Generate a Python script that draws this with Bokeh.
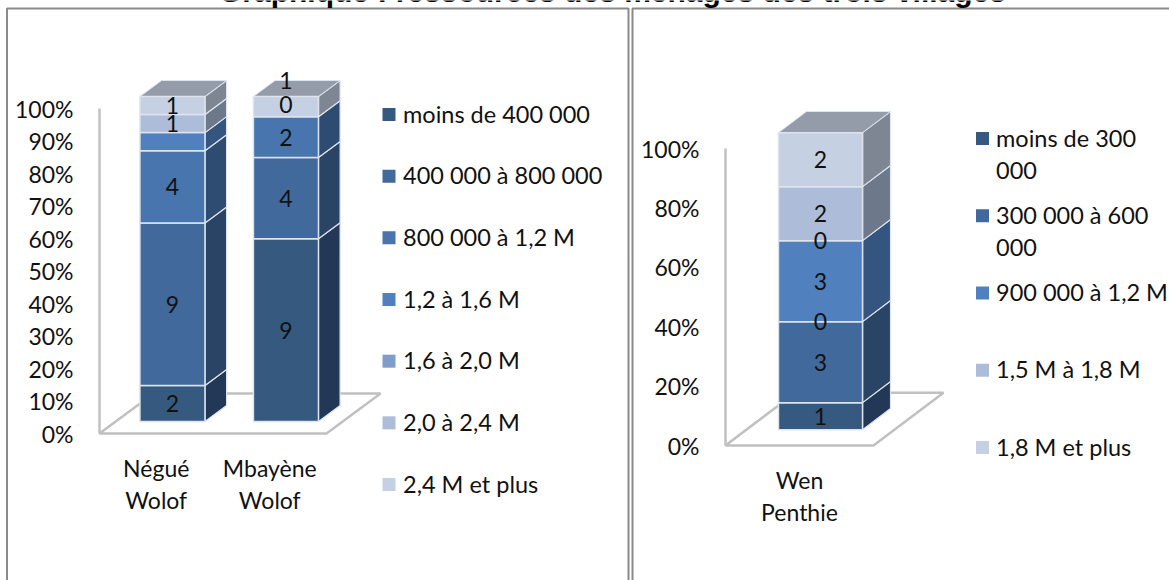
from bokeh.plotting import figure
from bokeh.models import Range1d, LinearAxis, FixedTicker
from bokeh.core.properties import value
from bokeh.embed import file_html
from bokeh.resources import INLINE

TITLE = "Graphique : ressources des ménages des trois villages"
FONT = "Lato"
TXT = "23px"
LEGEND_TXT = "23.5px"

FACE = ["#36597f", "#41699c", "#4875ae", "#5080bd", "#7f9dc9", "#adbcd9", "#c5d0e3"]
SIDE = ["#223856", "#2a4465", "#2e4c72", "#33557f", "#4f6583", "#6d788a", "#7e8693"]
TOP = "#949ba9"
EDGE = "#dde4ee"
WALL = "#c0c0c0"

LEFT_CATEGORIES = ["Négué\nWolof", "Mbayène\nWolof"]
LEFT_SERIES = ["moins de 400 000", "400 000 à 800 000", "800 000 à 1,2 M", "1,2 à 1,6 M",
               "1,6 à 2,0 M", "2,0 à 2,4 M", "2,4 M et plus"]
NEGUE = [2, 9, 4, 1, 0, 1, 1]
MBAYENE = [9, 4, 2, 0, 0, 0, 1]
NEGUE_LABELS = ["2", "9", "4", None, None, "1", "1"]
MBAYENE_LABELS = ["9", "4", "2", None, None, "0", "1"]
MBAYENE_NUDGE = [0, 0, 0, 0, 0, 3.7, 8.0]
NEGUE_NUDGE = [0, 0, 0, 0, 0, 0, 0]

RIGHT_CATEGORIES = ["Wen\nPenthie"]
RIGHT_SERIES = ["moins de 300\n000", "300 000 à 600\n000", "900 000 à 1,2 M", "1,5 M à 1,8 M", "1,8 M et plus"]
RIGHT_LEGEND_COLOR = [0, 1, 3, 5, 6]
WEN = [1, 3, 0, 3, 0, 2, 2]
WEN_LABELS = ["1", "3", "0", "3", "0", "2", "2"]
WEN_NUDGE = [0, 0, 0, 0, 0, 0, 0]

TICKS_LEFT = [0, 10, 20, 30, 40, 50, 60, 70, 80, 90, 100]
TICKS_RIGHT = [0, 20, 40, 60, 80, 100]

W, H = 1169, 580
# chart geometry in picture pixels: origin, pixels per category, pixels per percent
L = dict(x0=99, y0=433, ux=113.5, uy=3.25, dx=0.476, dy=12.3, bw=0.573)
R = dict(x0=725, y0=445, ux=148.0, uy=2.97, dx=0.473, dy=17.8, bw=0.568)

def xr(g):
    return Range1d((0 - g["x0"]) / g["ux"], (W - g["x0"]) / g["ux"])

def yr(g):
    return Range1d((g["y0"] - H) / g["uy"], g["y0"] / g["uy"])

p = figure(width=W, height=H, output_backend="svg", toolbar_location=None,
           x_range=xr(L), y_range=yr(L), x_axis_location=None, y_axis_location=None,
           min_border=0, outline_line_color=None, background_fill_color="white")
p.grid.visible = False
p.extra_x_ranges = {"right": xr(R), "px": Range1d(0, W)}
p.extra_y_ranges = {"right": yr(R), "px": Range1d(H, 0)}

def project(g, x, v, d):
    return x + d * g["dx"], v + d * g["dy"]

def draw_floor(g, ncat, **names):
    xs, ys = [], []
    for x, v, d in [(0, 0, 1), (0, 0, 0), (ncat, 0, 0), (ncat, 0, 1), (0, 0, 1)]:
        a, b = project(g, x, v, d)
        xs.append(a)
        ys.append(b)
    p.line(xs, ys, line_color=WALL, line_width=2.5, **names)

def draw_bar(g, i, values, labels, nudges, **names):
    total = sum(values)
    cl = i + 0.5 - g["bw"] / 2
    cr = i + 0.5 + g["bw"] / 2
    cum = 0.0
    fx, fy, fc = [], [], []
    sx, sy, sc = [], [], []
    tx, ty, tt = [], [], []
    for k, val in enumerate(values):
        v0 = cum / total * 100
        cum += val
        v1 = cum / total * 100
        if val > 0:
            pts = [project(g, cl, v0, .3), project(g, cr, v0, .3), project(g, cr, v1, .3), project(g, cl, v1, .3)]
            fx.append([q[0] for q in pts]); fy.append([q[1] for q in pts]); fc.append(FACE[k])
            pts = [project(g, cr, v0, .3), project(g, cr, v0, .7), project(g, cr, v1, .7), project(g, cr, v1, .3)]
            sx.append([q[0] for q in pts]); sy.append([q[1] for q in pts]); sc.append(SIDE[k])
        if labels[k] is not None:
            a, b = project(g, i + 0.5, (v0 + v1) / 2 + nudges[k], .3)
            tx.append(a); ty.append(b); tt.append(labels[k])
    pts = [project(g, cl, 100, .3), project(g, cr, 100, .3), project(g, cr, 100, .7), project(g, cl, 100, .7)]
    p.patches(sx, sy, fill_color=sc, line_color=EDGE, line_width=1.2, **names)
    p.patch([q[0] for q in pts], [q[1] for q in pts], fill_color=TOP, line_color=EDGE, line_width=1.0, **names)
    p.patches(fx, fy, fill_color=fc, line_color=EDGE, line_width=1.5, **names)
    return tx, ty, tt

PX = dict(x_range_name="px", y_range_name="px")
RG = dict(x_range_name="right", y_range_name="right")

# frames
p.line([6.5, 6.5, 628, 628], [H + 5, 8, 8, H + 5], line_color="#8a8a8a", line_width=2, **PX)
p.line([632, 632, W + 5], [H + 5, 8, 8], line_color="#8a8a8a", line_width=2, **PX)
p.text([612], [-9.5], text=[TITLE], text_font=value("Liberation Sans"), text_font_style="bold",
       text_font_size="30px", text_align="center", text_baseline="alphabetic", text_color="black", **PX)

# floors, bars
draw_floor(L, len(LEFT_CATEGORIES))
draw_floor(R, len(RIGHT_CATEGORIES), **RG)
for i, (vals, labs, nud) in enumerate([(NEGUE, NEGUE_LABELS, NEGUE_NUDGE), (MBAYENE, MBAYENE_LABELS, MBAYENE_NUDGE)]):
    tx, ty, tt = draw_bar(L, i, vals, labs, nud)
    p.text(tx, ty, text=tt, text_font=value(FONT), text_font_size=TXT, text_align="center",
           text_baseline="middle", text_color="#111111")
tx, ty, tt = draw_bar(R, 0, WEN, WEN_LABELS, WEN_NUDGE, **RG)
p.text(tx, ty, text=tt, text_font=value(FONT), text_font_size=TXT, text_align="center",
       text_baseline="middle", text_color="#111111", **RG)

# axes
def style_y(ax, ticks):
    ax.ticker = FixedTicker(ticks=ticks)
    ax.bounds = (0, 100)
    ax.major_label_overrides = {t: f"{t}%" for t in ticks}
    ax.major_tick_line_color = None
    ax.minor_tick_line_color = None
    ax.axis_line_color = WALL
    ax.axis_line_width = 2.5
    ax.major_label_standoff = 20
    ax.major_label_text_font = FONT
    ax.major_label_text_font_size = TXT
    ax.major_label_text_color = "#111111"

def style_x(ax, cats):
    ticks = [i + 0.5 for i in range(len(cats))]
    ax.ticker = FixedTicker(ticks=ticks)
    ax.major_label_overrides = {t: c for t, c in zip(ticks, cats)}
    ax.major_tick_line_color = None
    ax.minor_tick_line_color = None
    ax.axis_line_color = None
    ax.major_label_standoff = 14
    ax.major_label_text_font = FONT
    ax.major_label_text_font_size = TXT
    ax.major_label_text_color = "#111111"
    ax.major_label_text_line_height = 1.16

yl = LinearAxis(fixed_location=0)
style_y(yl, TICKS_LEFT)
p.add_layout(yl, "left")
yrt = LinearAxis(y_range_name="right", fixed_location=(R["x0"] - L["x0"]) / L["ux"])
style_y(yrt, TICKS_RIGHT)
p.add_layout(yrt, "left")
xl = LinearAxis(fixed_location=0)
style_x(xl, LEFT_CATEGORIES)
p.add_layout(xl, "below")
xrt = LinearAxis(x_range_name="right", fixed_location=(L["y0"] - R["y0"]) / L["uy"])
style_x(xrt, RIGHT_CATEGORIES)
p.add_layout(xrt, "below")

# legends
def legend(names, colors, sq_x, tx_x, y0, step):
    sqx, sqy, sqc, lx, ly, lt = [], [], [], [], [], []
    for j, (nm, c) in enumerate(zip(names, colors)):
        y = y0 + j * step
        sqx.append(sq_x); sqy.append(y); sqc.append(c)
        for n, part in enumerate(nm.split("\n")):
            lx.append(tx_x); ly.append(y - 1 + n * 33); lt.append(part)
    p.scatter(sqx, sqy, marker="square", size=13, fill_color=sqc, line_color=None, **PX)
    p.text(lx, ly, text=lt, text_font=value(FONT), text_font_size=LEGEND_TXT, text_align="left",
           text_baseline="middle", text_color="#111111", **PX)

legend(LEFT_SERIES, FACE, 388.5, 402.5, 114, 61.67)
legend(RIGHT_SERIES, [FACE[k] for k in RIGHT_LEGEND_COLOR], 982, 995.5, 138, 77.25)

open("out.html", "w").write(file_html(p, INLINE))
